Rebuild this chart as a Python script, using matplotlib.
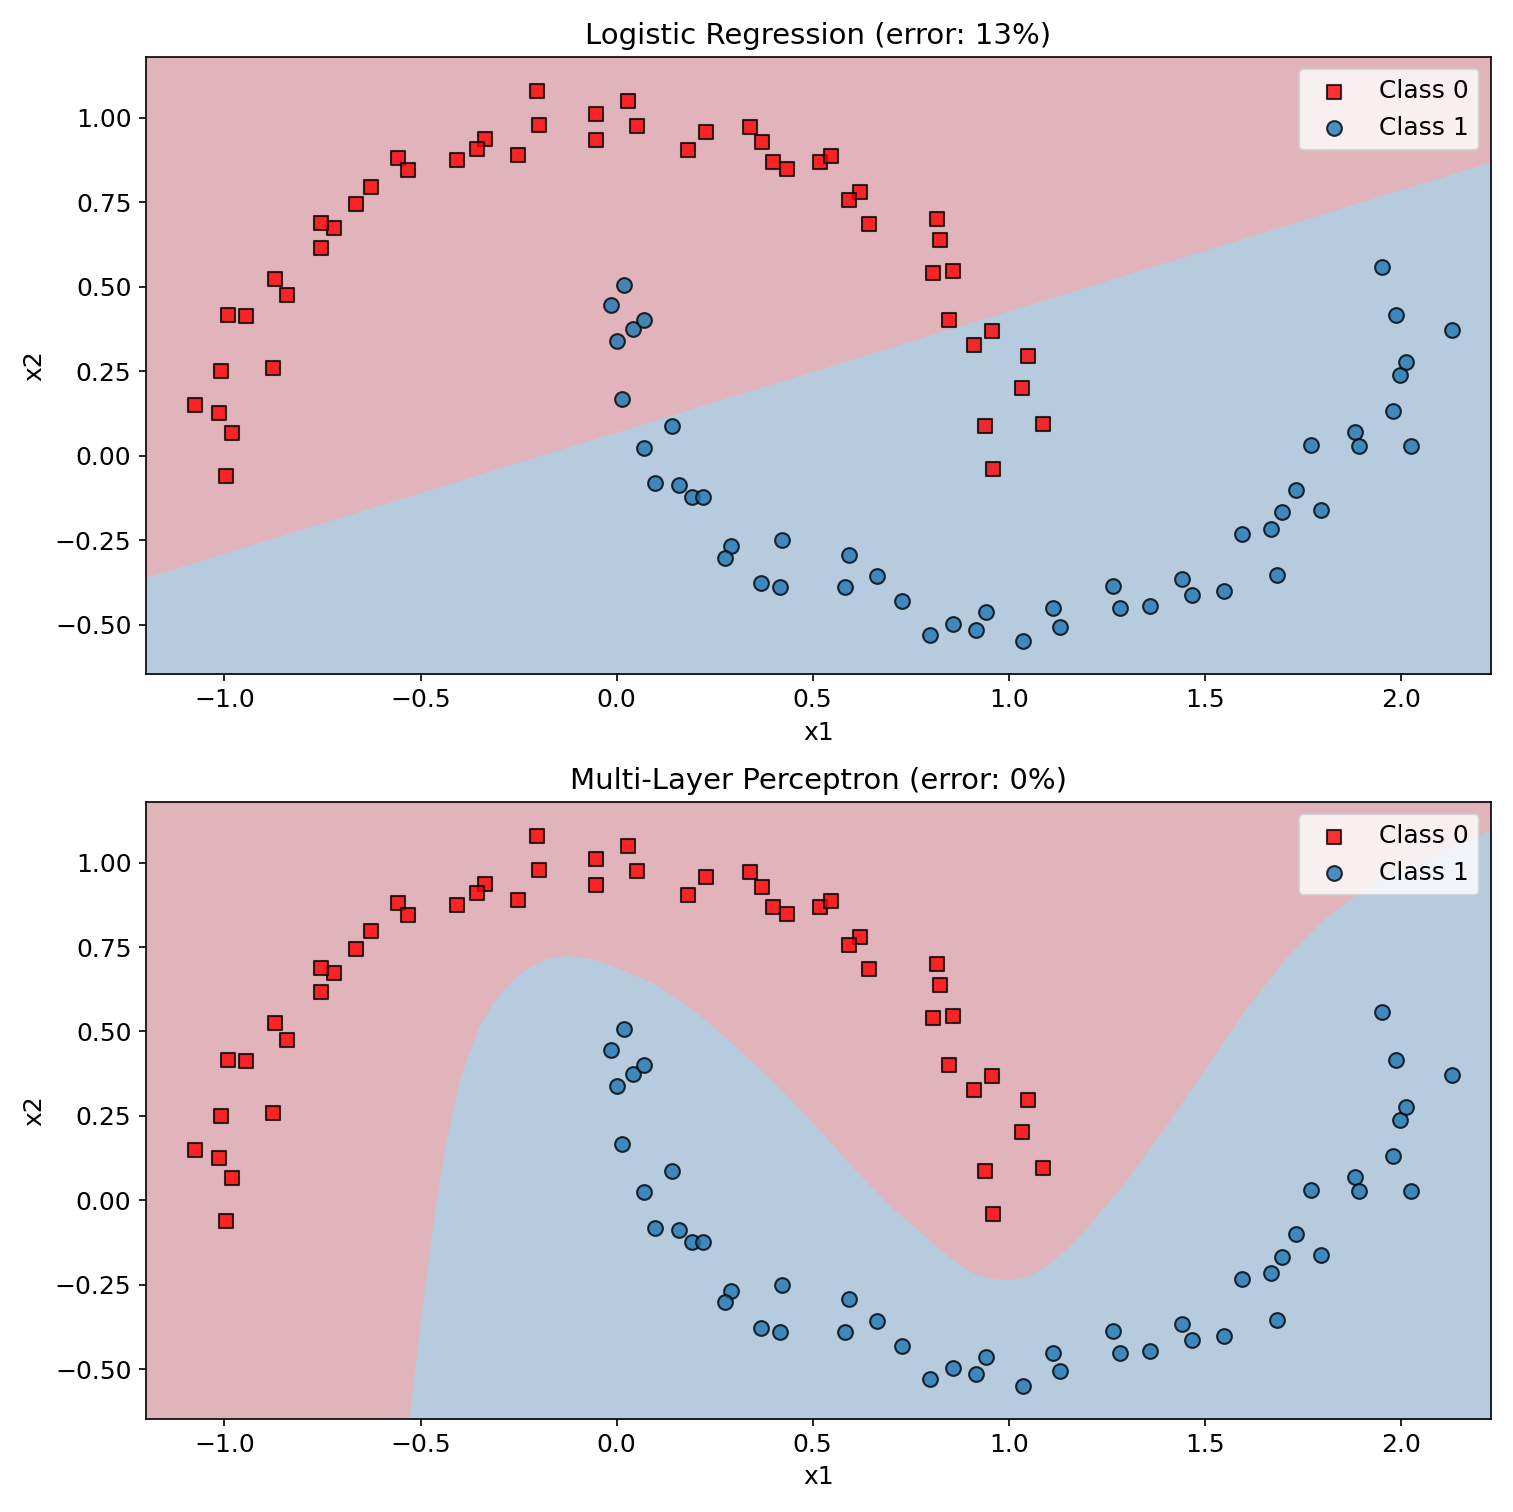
import numpy as np
import matplotlib.pyplot as plt

# class 0 (squares)
x0 = [-0.203,-0.053,-0.053,0.029,0.052,-0.198,-0.251,-0.335,-0.356,-0.407,-0.557,-0.531,-0.626,-0.664,
      -0.720,-0.753,-0.753,-0.870,-0.840,-0.992,-0.944,-0.875,-1.010,-1.076,-1.013,-0.980,-0.995,
      0.182,0.228,0.339,0.370,0.398,0.434,0.520,0.546,0.622,0.592,0.645,0.818,0.826,0.808,0.859,
      0.849,0.958,0.912,1.050,0.940,1.035,1.088,0.960]
y0 = [1.079,1.012,0.933,1.049,0.976,0.979,0.890,0.936,0.909,0.875,0.881,0.845,0.796,0.744,
      0.674,0.689,0.616,0.524,0.476,0.415,0.412,0.259,0.250,0.149,0.125,0.067,-0.061,
      0.905,0.957,0.973,0.927,0.869,0.848,0.869,0.887,0.780,0.756,0.686,0.701,0.637,0.540,0.546,
      0.402,0.369,0.326,0.296,0.088,0.201,0.095,-0.04]
# class 1 (circles)
x1 = [-0.015,0.018,0.000,0.043,0.069,0.015,0.071,0.142,0.097,0.160,0.193,0.221,0.292,0.277,0.422,
      0.369,0.417,0.593,0.583,0.664,0.728,0.799,0.858,0.916,0.942,1.036,1.112,1.130,1.265,1.285,
      1.361,1.443,1.468,1.550,1.595,1.669,1.697,1.733,1.684,1.796,1.771,1.883,1.893,1.980,1.997,
      2.013,2.025,1.987,1.951,2.130]
y1 = [0.445,0.506,0.338,0.375,0.402,0.168,0.024,0.088,-0.082,-0.088,-0.122,-0.122,-0.268,-0.302,-0.250,
      -0.378,-0.390,-0.293,-0.390,-0.357,-0.430,-0.530,-0.497,-0.515,-0.463,-0.549,-0.451,-0.506,-0.387,-0.451,
      -0.445,-0.366,-0.412,-0.402,-0.232,-0.216,-0.168,-0.101,-0.354,-0.162,0.030,0.070,0.027,0.131,0.238,
      0.277,0.027,0.415,0.558,0.372]

# decision boundaries (x, y on boundary)
lr_bx = [-1.2, 2.23]
lr_by = [-0.36, 0.87]
mlp_bx = [-0.53,-0.50,-0.47,-0.44,-0.40,-0.35,-0.30,-0.24,-0.18,-0.13,-0.06,0.0,0.1,0.2,0.3,0.4,0.5,
          0.6,0.7,0.8,0.85,0.9,0.95,1.0,1.05,1.1,1.15,1.2,1.3,1.4,1.5,1.6,1.7,1.8,1.9,2.0,2.1,2.23]
mlp_by = [-0.65,-0.35,-0.08,0.15,0.36,0.52,0.61,0.68,0.715,0.725,0.715,0.69,0.64,0.56,0.46,0.35,0.23,
          0.10,-0.02,-0.12,-0.17,-0.21,-0.23,-0.235,-0.225,-0.19,-0.14,-0.08,0.06,0.22,0.39,0.56,0.71,0.83,0.92,0.98,1.03,1.10]

RED = '#e1b4bb'
BLUE = '#b7cbdf'
xlim = (-1.2, 2.23)
ylim = (-0.646, 1.18)

fig, axes = plt.subplots(2, 1, figsize=(10.09, 10.08), dpi=150)
titles = ['Logistic Regression (error: 13%)', 'Multi-Layer Perceptron (error: 0%)']
bounds = [(lr_bx, lr_by), (mlp_bx, mlp_by)]
for ax, t, (bx, by) in zip(axes, titles, bounds):
    ax.set_facecolor(RED)
    ax.fill_between(bx, by, ylim[0] - 1, color=BLUE, lw=0)
    ax.scatter(x0, y0, marker='s', c='red', edgecolors='black', alpha=0.8, s=50, label='Class 0', zorder=3)
    ax.scatter(x1, y1, marker='o', c='#1f77b4', edgecolors='black', alpha=0.8, s=50, label='Class 1', zorder=3)
    ax.set_xlim(*xlim)
    ax.set_ylim(*ylim)
    ax.set_title(t, fontsize=14)
    ax.set_xlabel('x1', fontsize=12)
    ax.set_ylabel('x2', fontsize=12)
    ax.tick_params(labelsize=12)
    ax.legend(loc='upper right', fontsize=12)

plt.tight_layout()
plt.savefig('out.png')
